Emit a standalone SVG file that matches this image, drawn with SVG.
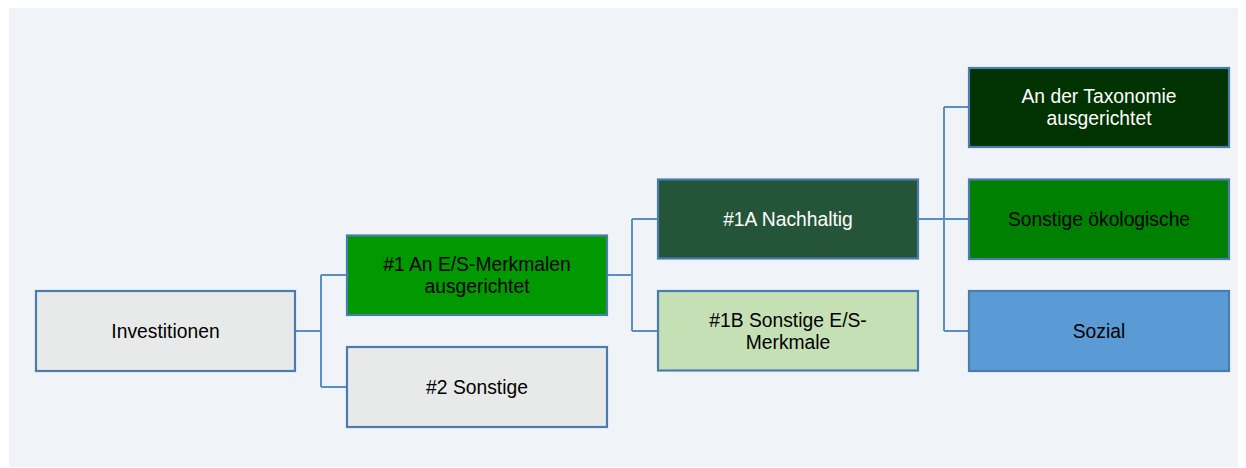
<svg xmlns="http://www.w3.org/2000/svg" width="1246" height="468" viewBox="0 0 1246 468">
<style>
.box{stroke:#4a7cad;stroke-width:2.2}
.lbl{font-family:"Liberation Sans",Arial,sans-serif;font-size:19.3px;text-anchor:middle}
.dark{fill:#000}
.light{fill:#fff}
.conn{fill:none;stroke:#5a8ec6;stroke-width:2}
</style>
<rect x="0" y="0" width="1246" height="468" fill="#ffffff"/>
<rect x="9" y="8" width="1229" height="459" fill="#f0f4f9"/>
<g id="connectors">
<path class="conn" d="M295,331 H321 M321,275 V387 M321,275 H347 M321,387 H347"/>
<path class="conn" d="M607,275 H632 M632,219 V331 M632,219 H658 M632,331 H658"/>
<path class="conn" d="M918,219 H969 M944,107 V331 M944,107 H969 M944,331 H969"/>
</g>
<g id="investitionen">
<rect class="box" x="36" y="291" width="259" height="80" fill="#e8e9e9"/>
<text class="lbl dark" x="165.5" y="337.5">Investitionen</text>
</g>
<g id="n1">
<rect class="box" x="347" y="235.5" width="260" height="79.5" fill="#009900"/>
<text class="lbl dark" x="477" y="270.5">#1 An E/S-Merkmalen</text>
<text class="lbl dark" x="477" y="292.5">ausgerichtet</text>
</g>
<g id="n2">
<rect class="box" x="347" y="347" width="260" height="80" fill="#e8e9e9"/>
<text class="lbl dark" x="477" y="393.5">#2 Sonstige</text>
</g>
<g id="n1a">
<rect class="box" x="658" y="179.5" width="260" height="79" fill="#255539"/>
<text class="lbl light" x="788" y="225.5">#1A Nachhaltig</text>
</g>
<g id="n1b">
<rect class="box" x="658" y="291" width="260" height="79.5" fill="#c5e0b4"/>
<text class="lbl dark" x="788" y="326.5">#1B Sonstige E/S-</text>
<text class="lbl dark" x="788" y="348.5">Merkmale</text>
</g>
<g id="taxonomie">
<rect class="box" x="969" y="68" width="260" height="79" fill="#003300"/>
<text class="lbl light" x="1099" y="102.5">An der Taxonomie</text>
<text class="lbl light" x="1099" y="124.5">ausgerichtet</text>
</g>
<g id="oekologisch">
<rect class="box" x="969" y="179.5" width="260" height="79.5" fill="#008000"/>
<text class="lbl dark" x="1099" y="225.5">Sonstige ökologische</text>
</g>
<g id="sozial">
<rect class="box" x="969" y="291" width="260" height="80" fill="#5b9bd5"/>
<text class="lbl dark" x="1099" y="337.5">Sozial</text>
</g>
</svg>
